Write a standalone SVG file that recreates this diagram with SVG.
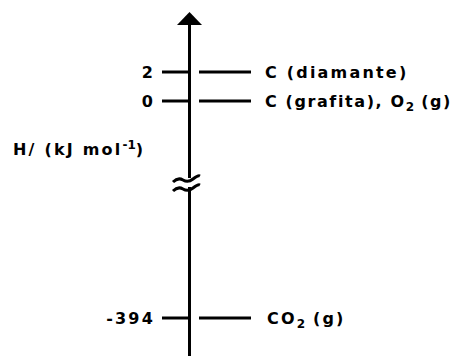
<svg xmlns="http://www.w3.org/2000/svg" width="458" height="356" viewBox="0 0 458 356">
<style>
text{font-family:"DejaVu Sans","Liberation Sans",Arial,sans-serif;font-weight:bold;font-size:16px;letter-spacing:2.2px;fill:#000}
.tight{letter-spacing:1.6px}
.ln{stroke:#000;stroke-width:3;fill:none}
.sub{font-size:12px;letter-spacing:0}
</style>
<rect width="458" height="356" fill="#fff"/>
<g id="axis">
<line class="ln" x1="189.5" y1="22" x2="189.5" y2="356"/>
<polygon points="189.5,12 177,25 202,25" fill="#000"/>
<rect x="180" y="178" width="20" height="9" fill="#fff"/>
<path class="ln" stroke-width="2.5" d="M173,182 q5,-5 10,-2 t10,-1 t7,-3"/>
<path class="ln" stroke-width="2.5" d="M173,191 q5,-5 10,-2 t10,-1 t7,-3"/>
<text x="13" y="155">H/ (kJ mol<tspan class="sub" dy="-6">-1</tspan><tspan dy="6">)</tspan></text>
</g>
<g id="connectors">
<line class="ln" x1="162" y1="72" x2="189" y2="72"/>
<line class="ln" x1="199" y1="72" x2="251" y2="72"/>
<line class="ln" x1="162" y1="101" x2="189" y2="101"/>
<line class="ln" x1="199" y1="101" x2="251" y2="101"/>
<line class="ln" x1="162" y1="318" x2="189" y2="318"/>
<line class="ln" x1="199" y1="318" x2="251" y2="318"/>
</g>
<g id="diamante">
<text x="155" y="78" text-anchor="end">2</text>
<text x="265" y="78">C (diamante)</text>
</g>
<g id="grafita">
<text x="155" y="107" text-anchor="end">0</text>
<text class="tight" x="265" y="107">C (grafita), O<tspan class="sub" dy="4">2</tspan><tspan dy="-4"> (g)</tspan></text>
</g>
<g id="co2">
<text x="155" y="324" text-anchor="end">-394</text>
<text x="267" y="324">CO<tspan class="sub" dy="4">2</tspan><tspan dy="-4"> (g)</tspan></text>
</g>
</svg>
